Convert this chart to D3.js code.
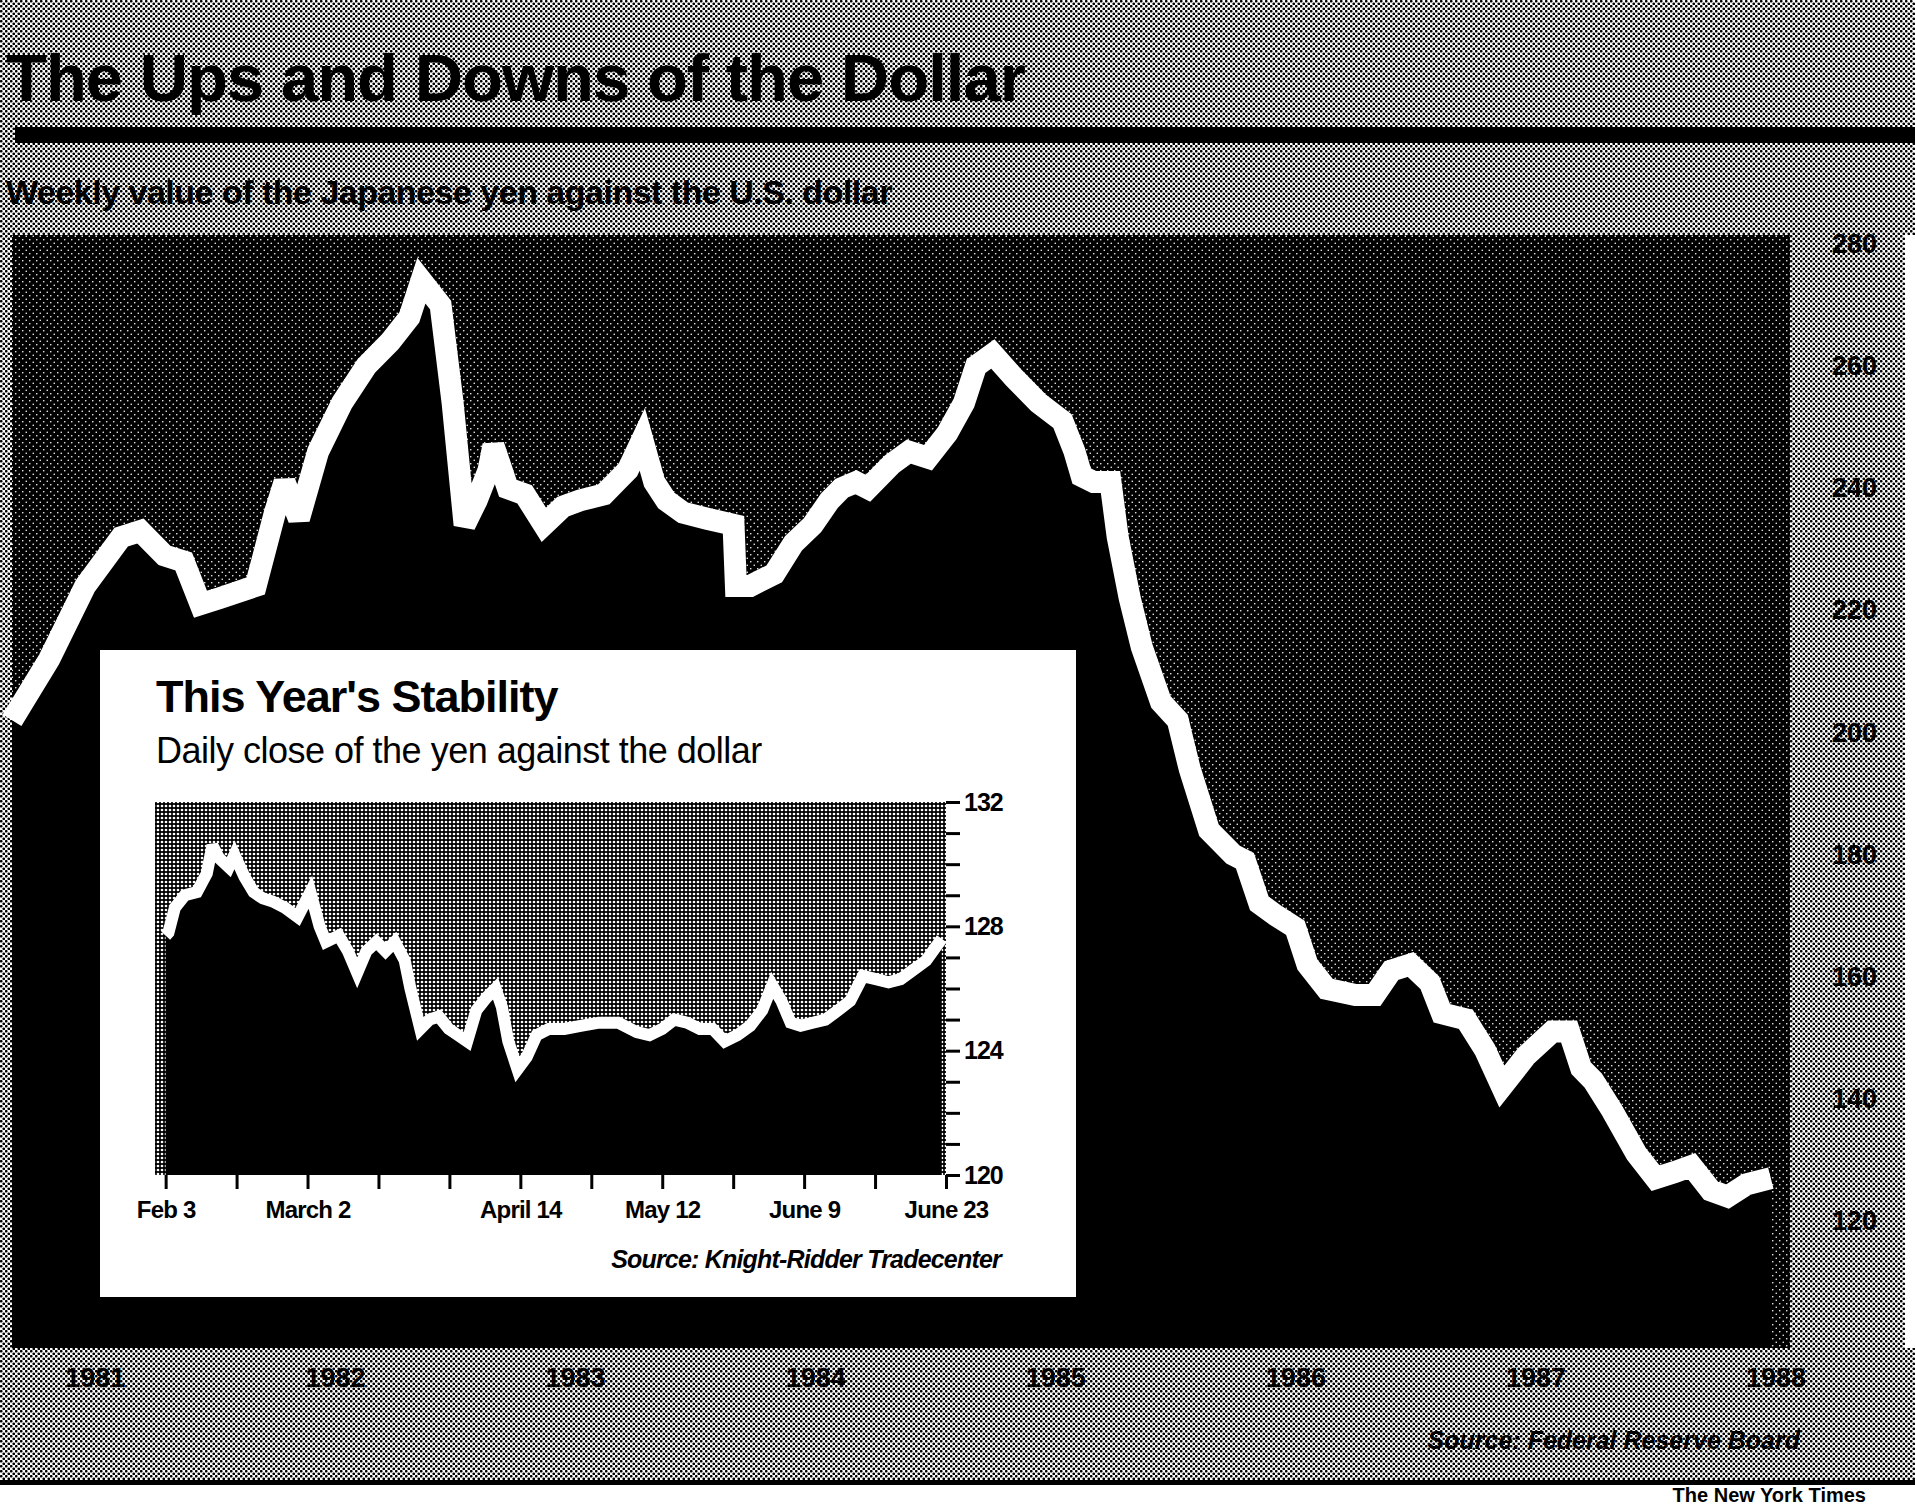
<!DOCTYPE html>
<html>
<head>
<meta charset="utf-8">
<script src="https://cdn.jsdelivr.net/npm/d3@7"></script>
<style>
  body { margin: 0; background: #fff; }
  svg { display: block; font-family: "Liberation Sans", Arial, sans-serif; }
  .axis text { font-weight: bold; fill: #000; }
  .axis line { stroke: #000; }
</style>
</head>
<body>
<div id="chart"></div>
<script>
const width = 1915, height = 1509;

// main chart: yen per dollar, 1981 - mid 1988 (x in years)
const mainYears = [1981.155, 1981.31, 1981.46, 1981.61, 1981.69, 1981.79, 1981.87, 1981.94, 1982.02, 1982.17,
  1982.25, 1982.29, 1982.35, 1982.43, 1982.53, 1982.63, 1982.73, 1982.81, 1982.86, 1982.94,
  1982.99, 1983.04, 1983.09, 1983.14, 1983.16, 1983.22, 1983.29, 1983.37, 1983.45, 1983.52,
  1983.62, 1983.67, 1983.72, 1983.78, 1983.83, 1983.88, 1983.95, 1984.05, 1984.16, 1984.17,
  1984.23, 1984.33, 1984.41, 1984.49, 1984.56, 1984.61, 1984.67, 1984.72, 1984.82, 1984.89,
  1984.97, 1985.05, 1985.12, 1985.17, 1985.24, 1985.33, 1985.43, 1985.53, 1985.58, 1985.61,
  1985.66, 1985.73, 1985.76, 1985.81, 1985.86, 1985.94, 1986.01, 1986.06, 1986.14, 1986.24,
  1986.29, 1986.35, 1986.42, 1986.50, 1986.55, 1986.63, 1986.75, 1986.83, 1986.90, 1986.98,
  1987.06, 1987.11, 1987.21, 1987.29, 1987.36, 1987.46, 1987.57, 1987.64, 1987.69, 1987.74,
  1987.82, 1987.92, 1988.00, 1988.08, 1988.15, 1988.23, 1988.30, 1988.38, 1988.48];
const mainYen = [202, 212, 224, 232, 233, 229, 228, 221, 222, 224,
  236, 241, 235, 246, 254, 260, 264, 268, 274, 270,
  254, 234, 238, 243, 247, 240, 239, 234, 237, 238,
  239, 241, 243, 248, 241, 238, 236, 235, 234, 224,
  224, 226, 231, 234, 238, 240, 241, 240, 244, 246,
  245, 249, 254, 260, 262, 258, 254, 251, 246, 242,
  241, 241, 232, 222, 214, 205, 202, 194, 184, 180,
  179, 172, 170, 168, 162, 158, 157, 157, 161, 162,
  159, 154, 153, 148, 142, 147, 151, 151, 145, 143,
  138, 131, 127, 128, 129, 125, 124, 126, 127];
const mainYearLabels = [1981, 1982, 1983, 1984, 1985, 1986, 1987, 1988];
const mainYTicks = [120, 140, 160, 180, 200, 220, 240, 260, 280];

// inset: daily close, Feb 3 - June 23 (x in two-week tick steps)
const insetPos = [0.00, 0.04, 0.13, 0.27, 0.44, 0.58, 0.66, 0.75, 0.89, 0.97,
  1.11, 1.24, 1.37, 1.51, 1.68, 1.86, 2.04, 2.17, 2.26, 2.44,
  2.57, 2.70, 2.83, 2.97, 3.10, 3.23, 3.37, 3.45, 3.59, 3.72,
  3.85, 3.99, 4.12, 4.25, 4.38, 4.52, 4.65, 4.74, 4.83, 4.96,
  5.09, 5.23, 5.40, 5.62, 5.85, 6.11, 6.38, 6.64, 6.82, 7.00,
  7.17, 7.35, 7.53, 7.71, 7.88, 8.06, 8.24, 8.41, 8.55, 8.68,
  8.81, 8.95, 9.12, 9.30, 9.48, 9.65, 9.83, 10.01, 10.19, 10.36,
  10.54, 10.72, 10.94];
const insetYen = [127.7, 127.8, 128.6, 129.0, 129.1, 129.7, 130.6, 130.2, 129.9, 130.3,
  129.6, 129.1, 128.9, 128.8, 128.6, 128.3, 129.1, 128.0, 127.5, 127.7,
  127.2, 126.5, 127.2, 127.5, 127.2, 127.5, 126.9, 126.0, 124.7, 125.0,
  125.1, 124.7, 124.5, 124.3, 125.3, 125.7, 126.0, 125.4, 124.3, 123.4,
  123.8, 124.5, 124.7, 124.7, 124.8, 124.9, 124.9, 124.6, 124.5, 124.7,
  125.0, 124.9, 124.7, 124.7, 124.3, 124.5, 124.8, 125.3, 126.1, 125.6,
  124.9, 124.8, 124.9, 125.0, 125.3, 125.6, 126.4, 126.3, 126.2, 126.3,
  126.6, 126.9, 127.6];
const insetTicks = [0, 1, 2, 3, 4, 5, 6, 7, 8, 9, 10, 11];
const insetTickLabels = ["Feb 3", "", "March 2", "", "", "April 14", "", "May 12", "", "June 9", "", "June 23"];
const insetYTicks = [120, 121, 122, 123, 124, 125, 126, 127, 128, 129, 130, 131, 132];

const plot = ({ left: 12, right: 1790, top: 235, bottom: 1348 }); // main plot box
const inset = ({ left: 100, right: 1076, top: 650, bottom: 1297 }); // white inset box
const iplot = ({ left: 155, right: 946, top: 802, bottom: 1175 }); // inset plot

const svg = d3.select("#chart")
    .append("svg")
    .attr("width", width)
    .attr("height", height)
    .attr("viewBox", [0, 0, width, height]);

// halftone textures
const defs = svg.append("defs");
const paper = defs.append("pattern").attr("id", "paper")
    .attr("width", 5).attr("height", 5).attr("patternUnits", "userSpaceOnUse");
paper.append("rect").attr("width", 5).attr("height", 5).attr("fill", "#fff");
paper.append("circle").attr("cx", 1.25).attr("cy", 1.25).attr("r", 1.35).attr("fill", "#000");
paper.append("circle").attr("cx", 3.75).attr("cy", 3.75).attr("r", 1.35).attr("fill", "#000");

const night = defs.append("pattern").attr("id", "night")
    .attr("width", 7).attr("height", 7).attr("patternUnits", "userSpaceOnUse");
night.append("rect").attr("width", 7).attr("height", 7).attr("fill", "#000");
night.append("circle").attr("cx", 1.75).attr("cy", 1.75).attr("r", 0.8).attr("fill", "#fff");
night.append("circle").attr("cx", 5.25).attr("cy", 5.25).attr("r", 0.8).attr("fill", "#fff");

const grey = defs.append("pattern").attr("id", "grey")
    .attr("width", 4).attr("height", 4).attr("patternUnits", "userSpaceOnUse");
grey.append("rect").attr("width", 4).attr("height", 4).attr("fill", "#000");
grey.append("circle").attr("cx", 2).attr("cy", 2).attr("r", 1.35).attr("fill", "#fff");

// page bands
svg.append("rect").attr("x", 0).attr("y", 0).attr("width", width).attr("height", plot.top)
    .attr("fill", "url(#paper)");
svg.append("rect").attr("x", 0).attr("y", plot.top).attr("width", plot.left).attr("height", plot.bottom - plot.top)
    .attr("fill", "url(#paper)");
svg.append("rect").attr("x", plot.right).attr("y", plot.top).attr("width", 115).attr("height", plot.bottom - plot.top)
    .attr("fill", "url(#paper)");
svg.append("rect").attr("x", 0).attr("y", plot.bottom).attr("width", width).attr("height", 1480 - plot.bottom)
    .attr("fill", "url(#paper)");
svg.append("rect").attr("x", 0).attr("y", 1480).attr("width", width).attr("height", 5).attr("fill", "#000");
svg.append("rect").attr("x", 15).attr("y", 127).attr("width", width - 15).attr("height", 16).attr("fill", "#000");

svg.append("text") // headline
    .attr("x", 6)
    .attr("y", 101)
    .attr("font-size", 67)
    .attr("font-weight", "bold")
    .attr("letter-spacing", -1)
    .text("The Ups and Downs of the Dollar");

svg.append("text") // subtitle
    .attr("x", 6)
    .attr("y", 204)
    .attr("font-size", 34)
    .attr("font-weight", "bold")
    .attr("letter-spacing", -0.5)
    .text("Weekly value of the Japanese yen against the U.S. dollar");

// main chart
let x = d3.scaleLinear()
    .domain([1981.155, 1988.56])
    .range([plot.left, plot.right]);

let y = d3.scaleLinear()
    .domain([100, 280])
    .range([1343, 244]);

const mainData = mainYears.map((d, i) => ({ t: d, v: mainYen[i] }));

svg.append("rect")
    .attr("x", plot.left).attr("y", plot.top)
    .attr("width", plot.right - plot.left).attr("height", plot.bottom - plot.top)
    .attr("fill", "url(#night)");

svg.append("path")
    .datum(mainData)
    .attr("fill", "#000")
    .attr("d", d3.area().x(d => x(d.t)).y0(plot.bottom).y1(d => y(d.v)));

svg.append("path")
    .datum(mainData)
    .attr("fill", "none")
    .attr("stroke", "#fff")
    .attr("stroke-width", 22)
    .attr("stroke-linejoin", "miter")
    .attr("stroke-miterlimit", 3)
    .attr("d", d3.line().x(d => x(d.t)).y(d => y(d.v)));

svg.append("g")
    .attr("class", "axis")
    .attr("transform", `translate(${plot.right},0)`)
    .call(d3.axisRight(y).tickValues(mainYTicks).tickSize(0).tickPadding(42))
    .call(g => g.select(".domain").remove())
    .selectAll("text").attr("font-size", 27);

svg.append("g")
    .attr("class", "axis")
    .attr("transform", `translate(0,${plot.bottom})`)
    .call(d3.axisBottom(x).tickValues(mainYearLabels.map(d => d + 0.5)).tickFormat(d => String(Math.floor(d)))
        .tickSize(0).tickPadding(20))
    .call(g => g.select(".domain").remove())
    .selectAll("text").attr("font-size", 27);

svg.append("text")
    .attr("x", 1800)
    .attr("y", 1449)
    .attr("text-anchor", "end")
    .attr("font-size", 25)
    .attr("font-weight", "bold")
    .attr("font-style", "italic")
    .text("Source: Federal Reserve Board");

svg.append("text")
    .attr("x", 1866)
    .attr("y", 1502)
    .attr("text-anchor", "end")
    .attr("font-size", 20)
    .attr("font-weight", "bold")
    .text("The New York Times");

// inset
svg.append("rect")
    .attr("x", inset.left).attr("y", inset.top)
    .attr("width", inset.right - inset.left).attr("height", inset.bottom - inset.top)
    .attr("fill", "#fff");

svg.append("text")
    .attr("x", 156)
    .attr("y", 712)
    .attr("font-size", 45)
    .attr("font-weight", "bold")
    .attr("letter-spacing", -1)
    .text("This Year's Stability");

svg.append("text")
    .attr("x", 156)
    .attr("y", 763)
    .attr("font-size", 36)
    .attr("letter-spacing", -0.5)
    .text("Daily close of the yen against the dollar");

let ix = d3.scaleLinear()
    .domain([-0.15, 11])
    .range([iplot.left, iplot.right]);

let iy = d3.scaleLinear()
    .domain([120, 132])
    .range([iplot.bottom, iplot.top]);

const insetData = insetPos.map((d, i) => ({ t: d, v: insetYen[i] }));

svg.append("rect")
    .attr("x", iplot.left).attr("y", iplot.top)
    .attr("width", iplot.right - iplot.left).attr("height", iplot.bottom - iplot.top)
    .attr("fill", "url(#grey)");

svg.append("path")
    .datum(insetData)
    .attr("fill", "#000")
    .attr("d", d3.area().x(d => ix(d.t)).y0(iplot.bottom).y1(d => iy(d.v)));

svg.append("path")
    .datum(insetData)
    .attr("fill", "none")
    .attr("stroke", "#fff")
    .attr("stroke-width", 12)
    .attr("stroke-linejoin", "miter")
    .attr("stroke-miterlimit", 3)
    .attr("d", d3.line().x(d => ix(d.t)).y(d => iy(d.v)));

// left edge of the inset plot is a straight cut
svg.append("rect")
    .attr("x", iplot.left - 12).attr("y", iplot.top)
    .attr("width", 12).attr("height", iplot.bottom - iplot.top + 1)
    .attr("fill", "#fff");

svg.append("g")
    .attr("class", "axis")
    .attr("transform", `translate(${iplot.right},0)`)
    .call(d3.axisRight(iy).tickValues(insetYTicks).tickSize(14).tickPadding(4)
        .tickFormat(d => d % 4 === 0 ? d : ""))
    .call(g => g.select(".domain").remove())
    .call(g => g.selectAll("line").attr("stroke-width", 3))
    .selectAll("text").attr("font-size", 25).attr("letter-spacing", -1);

svg.append("g")
    .attr("class", "axis")
    .attr("transform", `translate(0,${iplot.bottom})`)
    .call(d3.axisBottom(ix).tickValues(insetTicks).tickSize(14).tickPadding(12)
        .tickFormat((d, i) => insetTickLabels[i]))
    .call(g => g.select(".domain").remove())
    .call(g => g.selectAll("line").attr("stroke-width", 3))
    .selectAll("text").attr("font-size", 24).attr("letter-spacing", -0.8);

svg.append("text")
    .attr("x", 1001)
    .attr("y", 1268)
    .attr("text-anchor", "end")
    .attr("font-size", 25)
    .attr("font-weight", "bold")
    .attr("font-style", "italic")
    .attr("letter-spacing", -0.8)
    .text("Source: Knight-Ridder Tradecenter");
</script>
</body>
</html>
